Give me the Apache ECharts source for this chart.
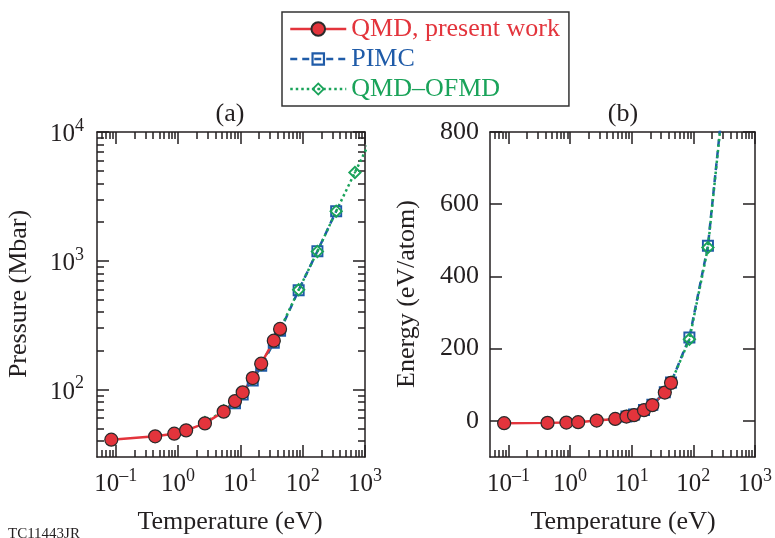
<!DOCTYPE html>
<html>
<head>
<meta charset="utf-8">
<script src="https://cdn.jsdelivr.net/npm/echarts@6/dist/echarts.min.js"></script>
<style>
  html, body { margin: 0; padding: 0; background: #fff; }
  #chart { width: 775px; height: 538px; }
</style>
</head>
<body>
<div id="chart"></div>
<script>
// ---- data: temperature (eV), pressure (Mbar), energy (eV/atom) ----
const qmdT  = [0.085, 0.43, 0.87, 1.35, 2.7, 5.4, 8.2, 10.9, 15.8, 21.6, 34.4, 43.4];
const qmdP  = [40.9, 43.4, 45.5, 48.3, 54.7, 67.5, 81.5, 95.3, 123, 159, 240, 296];
const qmdE  = [-6.4, -5.5, -4.7, -3.6, 0.8, 5.5, 11.9, 15.8, 29.6, 43.5, 78.4, 105.3];

const pimcT = [8.2, 10.9, 15.8, 21.6, 34.4, 43.4, 86.2, 172.3, 344.7];
const pimcP = [78.5, 91.5, 118, 153, 231, 286, 592, 1188, 2427];
const pimcE = [12.5, 17.5, 30.5, 45, 79, 106, 231, 485, 980];

const ofmdT = [2.7, 5.4, 8.2, 10.9, 15.8, 21.6, 34.4, 43.4, 86.2, 172.3, 344.7, 689, 1379];
const ofmdP = [55.5, 68.5, 80, 94, 121, 157, 237, 292, 595, 1180, 2430, 4850, 9700];
const ofmdE = [0.8, 5.5, 12, 16, 30, 44, 79, 106, 226, 480, 975, 2000, 4000];

// ---- axis ticks ----
const tempDecades  = [-1, 0, 1, 2, 3];
const pressDecades = [2, 3, 4];
const energyTicks  = [0, 200, 400, 600, 800];

const seriesNames = ['QMD, present work', 'PIMC', 'QMD\u2013OFMD'];

const FONT  = "'Liberation Serif', 'Times New Roman', serif";
const INK   = '#231f20';
const RED   = '#e3343c';
const BLUE  = '#1f5ba8';
const GREEN = '#1aa35a';
const lg = Math.log10;

const T_MIN = -1.3, T_MAX = 3.0;           // log10 of temperature range
const P_MIN = lg(30), P_MAX = 4;            // log10 of pressure range
const E_MIN = -100, E_MAX = 800;

function minorLogs(lo, hi) {
  const out = [];
  for (let n = Math.floor(lo) - 1; n <= Math.ceil(hi); n++) {
    for (let k = 2; k <= 9; k++) {
      const v = n + lg(k);
      if (v > lo + 1e-9 && v < hi - 1e-9) out.push(v);
    }
  }
  return out;
}

const powRich = {
  b: { fontFamily: FONT, fontSize: 25, color: INK, lineHeight: 30, verticalAlign: 'bottom' },
  s: { fontFamily: FONT, fontSize: 18, color: INK, lineHeight: 18, verticalAlign: 'top' }
};
const powLabel = v => '{b|10}{s|' + (v < 0 ? '\u2013' + (-v) : v) + '}';

const axisLineStyle = { color: INK, width: 1.5 };

// one side of a framed axis: major ticks (with optional labels) + minor ticks
function sideAxes(gridIndex, position, min, max, majors, minors, labelOpt) {
  const base = { type: 'value', gridIndex, position, min, max, splitLine: { show: false } };
  const out = [{
    ...base,
    axisLine: { show: true, onZero: false, lineStyle: axisLineStyle },
    axisTick: { show: true, inside: true, length: 12, customValues: majors, lineStyle: axisLineStyle },
    axisLabel: labelOpt ? { show: true, customValues: majors, ...labelOpt } : { show: false }
  }];
  if (minors && minors.length) {
    out.push({
      ...base,
      axisLine: { show: false, onZero: false },
      axisTick: { show: true, inside: true, length: 7, customValues: minors, lineStyle: axisLineStyle },
      axisLabel: { show: false }
    });
  }
  return out;
}

const tMinors = minorLogs(T_MIN, T_MAX);
const pMinors = minorLogs(P_MIN, P_MAX);

const xLabel = { formatter: powLabel, rich: powRich, margin: 10 };
const yLogLabel = { formatter: powLabel, rich: powRich, margin: 13 };
const yLinLabel = { fontFamily: FONT, fontSize: 26, color: INK, margin: 11 };

// x axes: grid 0 -> indices 0..3, grid 1 -> 4..7 (index 0 and 4 carry the data)
const xAxes = [
  ...sideAxes(0, 'bottom', T_MIN, T_MAX, tempDecades, tMinors, xLabel),
  ...sideAxes(0, 'top',    T_MIN, T_MAX, tempDecades, tMinors, null),
  ...sideAxes(1, 'bottom', T_MIN, T_MAX, tempDecades, tMinors, xLabel),
  ...sideAxes(1, 'top',    T_MIN, T_MAX, tempDecades, tMinors, null)
];
// y axes: grid 0 -> 0..3 (log pressure), grid 1 -> 4..5 (energy)
const yAxes = [
  ...sideAxes(0, 'left',  P_MIN, P_MAX, pressDecades, pMinors, yLogLabel),
  ...sideAxes(0, 'right', P_MIN, P_MAX, pressDecades, pMinors, null),
  ...sideAxes(1, 'left',  E_MIN, E_MAX, energyTicks, null, yLinLabel),
  ...sideAxes(1, 'right', E_MIN, E_MAX, energyTicks, null, null)
];

// symbol outlines (ring shapes so the interior stays open)
const SQUARE_RING  = 'path://M0,0H10V10H0Z M1.6,1.6V8.4H8.4V1.6Z';
const DIAMOND_RING = 'path://M5,0L10,5L5,10L0,5Z M5,1.9L1.9,5L5,8.1L8.1,5Z M5,4L6,5L5,6L4,5Z';

function pairs(xs, ys, yLog) {
  return xs.map((t, i) => [lg(t), yLog ? lg(ys[i]) : ys[i]]);
}

function panelSeries(xi, yi, yLog, pY, oY, qY) {
  return [
    {
      name: seriesNames[1], type: 'line', xAxisIndex: xi, yAxisIndex: yi,
      data: pairs(pimcT, pY, yLog),
      symbol: SQUARE_RING, symbolSize: 12, symbolKeepAspect: true,
      itemStyle: { color: BLUE, borderWidth: 0 },
      lineStyle: { color: BLUE, width: 2.5, type: [7, 5] }
    },
    {
      name: seriesNames[2], type: 'line', xAxisIndex: xi, yAxisIndex: yi,
      data: pairs(ofmdT, oY, yLog),
      symbol: DIAMOND_RING, symbolSize: 14, symbolKeepAspect: true,
      itemStyle: { color: GREEN, borderWidth: 0 },
      lineStyle: { color: GREEN, width: 2.5, type: [2.5, 3] }
    },
    {
      name: seriesNames[0], type: 'line', xAxisIndex: xi, yAxisIndex: yi,
      data: pairs(qmdT, qY, yLog),
      symbol: 'circle', symbolSize: 13,
      itemStyle: { color: RED, borderColor: '#2a2a2a', borderWidth: 1.2 },
      lineStyle: { color: RED, width: 2.5 }
    }
  ];
}

const textStyle = (extra) => ({ fontFamily: FONT, fontSize: 26, fill: INK, ...extra });

const option = {
  animation: false,
  backgroundColor: '#fff',
  grid: [
    { left: 97,  top: 132, width: 268, height: 325, containLabel: false },
    { left: 490, top: 132, width: 268, height: 325, containLabel: false }
  ],
  legend: {
    orient: 'vertical', left: 282, top: 12,
    itemWidth: 56, itemHeight: 17, itemGap: 4,
    padding: [4, 9, 4, 7],
    borderColor: '#333', borderWidth: 1.5,
    selectedMode: false,
    lineStyle: { width: 2.5 },
    textStyle: { fontFamily: FONT, fontSize: 26 },
    data: [
      { name: seriesNames[0], textStyle: { color: RED } },
      { name: seriesNames[1], textStyle: { color: BLUE } },
      { name: seriesNames[2], textStyle: { color: GREEN } }
    ]
  },
  xAxis: xAxes,
  yAxis: yAxes,
  series: [
    ...panelSeries(0, 0, true,  pimcP, ofmdP, qmdP),
    ...panelSeries(4, 4, false, pimcE, ofmdE, qmdE)
  ],
  graphic: [
    { type: 'text', x: 230, y: 114, style: textStyle({ text: '(a)', textAlign: 'center', textVerticalAlign: 'middle' }) },
    { type: 'text', x: 623, y: 114, style: textStyle({ text: '(b)', textAlign: 'center', textVerticalAlign: 'middle' }) },
    { type: 'text', x: 230, y: 522, style: textStyle({ text: 'Temperature (eV)', textAlign: 'center', textVerticalAlign: 'middle' }) },
    { type: 'text', x: 623, y: 522, style: textStyle({ text: 'Temperature (eV)', textAlign: 'center', textVerticalAlign: 'middle' }) },
    { type: 'text', x: 19,  y: 294, rotation: Math.PI / 2, style: textStyle({ text: 'Pressure (Mbar)', textAlign: 'center', textVerticalAlign: 'middle' }) },
    { type: 'text', x: 407, y: 294, rotation: Math.PI / 2, style: textStyle({ text: 'Energy (eV/atom)', textAlign: 'center', textVerticalAlign: 'middle' }) },
    { type: 'text', x: 8,   y: 542, style: textStyle({ text: 'TC11443JR', fontSize: 15, textAlign: 'left', textVerticalAlign: 'bottom' }) }
  ]
};

const chart = echarts.init(document.getElementById('chart'), null, { renderer: 'canvas' });
chart.setOption(option);
</script>
</body>
</html>
